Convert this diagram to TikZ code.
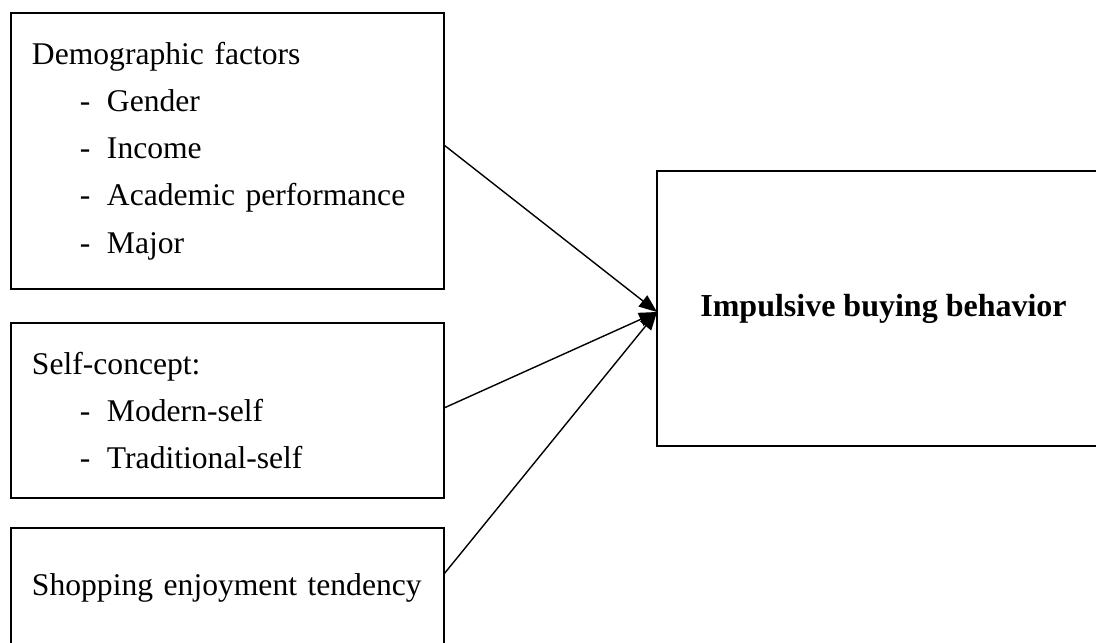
\documentclass[tikz,border=0pt]{standalone}
\usepackage{fontspec}
\setmainfont{Liberation Serif}
\usetikzlibrary{positioning, arrows.meta}

\newcommand{\dashitem}[1]{\hspace*{24pt}\makebox[13.5pt][l]{-}#1}

\begin{document}
\begin{tikzpicture}[
  factor/.style={draw, line width=0.8pt, minimum width=216.5pt, text width=195.5pt,
                 inner xsep=10.5pt, inner ysep=0pt, outer sep=0pt, align=left,
                 font=\fontsize{15.8pt}{23.6pt}\selectfont},
  outcome/.style={draw, line width=0.8pt, minimum width=226.5pt, minimum height=137.5pt,
                  outer sep=0pt, font=\fontsize{16pt}{19pt}\selectfont\bfseries},
  arr/.style={-{Triangle[length=9pt, width=7pt]}, line width=0.7pt},
]
\useasboundingbox (0,0) rectangle (548pt,-321pt);

% === Factor boxes (left column) ===
\node[factor, minimum height=138pt] (demo) at (113.75pt,-75.5pt)
  {Demographic factors\\
   \dashitem{Gender}\\
   \dashitem{Income}\\
   \dashitem{Academic performance}\\
   \dashitem{Major}};

\node[factor, minimum height=87.5pt, below=17pt of demo] (self)
  {Self-concept:\\
   \dashitem{Modern-self}\\
   \dashitem{Traditional-self}};

\node[factor, minimum height=60pt, below=15pt of self] (shop)
  {\mbox{Shopping enjoyment tendency}};

% === Outcome box ===
\node[outcome] (impulse) at (441.75pt,-154.25pt) {Impulsive buying behavior};

% === Arrows ===
\coordinate (tip) at ([yshift=-1.75pt]impulse.west);
\draw[arr] ([yshift=3pt]demo.east) -- (tip);
\draw[arr] ([yshift=1.25pt]self.east) -- (tip);
\draw[arr] ([yshift=7pt]shop.east) -- (tip);

\end{tikzpicture}
\end{document}
